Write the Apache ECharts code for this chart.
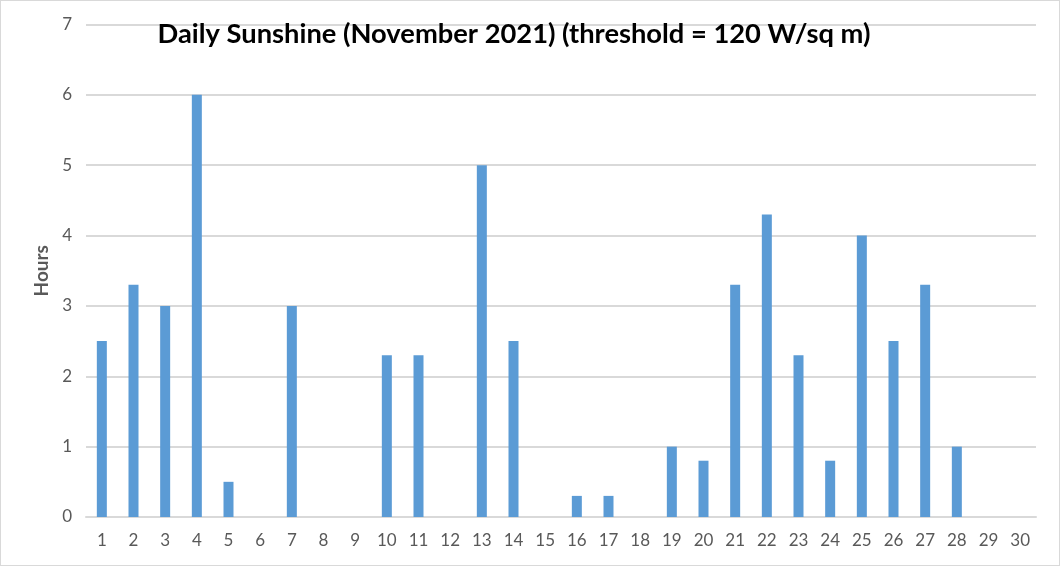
<!DOCTYPE html>
<html>
<head>
<meta charset="utf-8">
<script src="https://cdn.jsdelivr.net/npm/echarts@6/dist/echarts.min.js"></script>
<style>
html,body{margin:0;padding:0;background:#fff;}
#c{width:1060px;height:566px;box-sizing:border-box;border:1px solid #d9d9d9;}
</style>
</head>
<body>
<div id="c"></div>
<script>
const days = ['1','2','3','4','5','6','7','8','9','10','11','12','13','14','15','16','17','18','19','20','21','22','23','24','25','26','27','28','29','30'];
const hours = [2.5,3.3,3.0,6.0,0.5,0,3.0,0,0,2.3,2.3,0,5.0,2.5,0,0.3,0.3,0,1.0,0.8,3.3,4.3,2.3,0.8,4.0,2.5,3.3,1.0,0,0];
const yTicks = [0,1,2,3,4,5,6,7];
const titleText = 'Daily Sunshine (November 2021) (threshold = 120 W/sq m)';
const yName = 'Hours';

const chart = echarts.init(document.getElementById('c'), null, {renderer:'canvas'});
const font = 'Lato, "Open Sans", sans-serif';
chart.setOption({
  animation:false,
  title:{
    text:titleText,
    left:508, top:15, textAlign:'center',
    textStyle:{fontFamily:font,fontWeight:'bold',fontSize:27.3,color:'#000'}
  },
  grid:{left:85,right:23,top:23.5,bottom:48,containLabel:false},
  xAxis:{
    type:'category',
    data:days,
    axisLine:{lineStyle:{color:'#d9d9d9',width:2}},
    axisTick:{show:false},
    axisLabel:{color:'#595959',fontFamily:font,fontSize:17,margin:15,interval:0}
  },
  yAxis:{
    type:'value',
    min:yTicks[0], max:yTicks[yTicks.length-1], interval:1,
    name:yName, nameLocation:'middle', nameGap:35, nameRotate:90,
    nameTextStyle:{color:'#595959',fontFamily:font,fontWeight:'bold',fontSize:19},
    axisLine:{show:false},
    axisTick:{show:false},
    axisLabel:{color:'#595959',fontFamily:font,fontSize:17,margin:14},
    splitLine:{lineStyle:{color:'#d9d9d9',width:2}}
  },
  series:[{
    type:'bar',
    data:hours,
    barWidth:10,
    itemStyle:{color:'#5b9bd5'}
  }]
});
</script>
</body>
</html>
